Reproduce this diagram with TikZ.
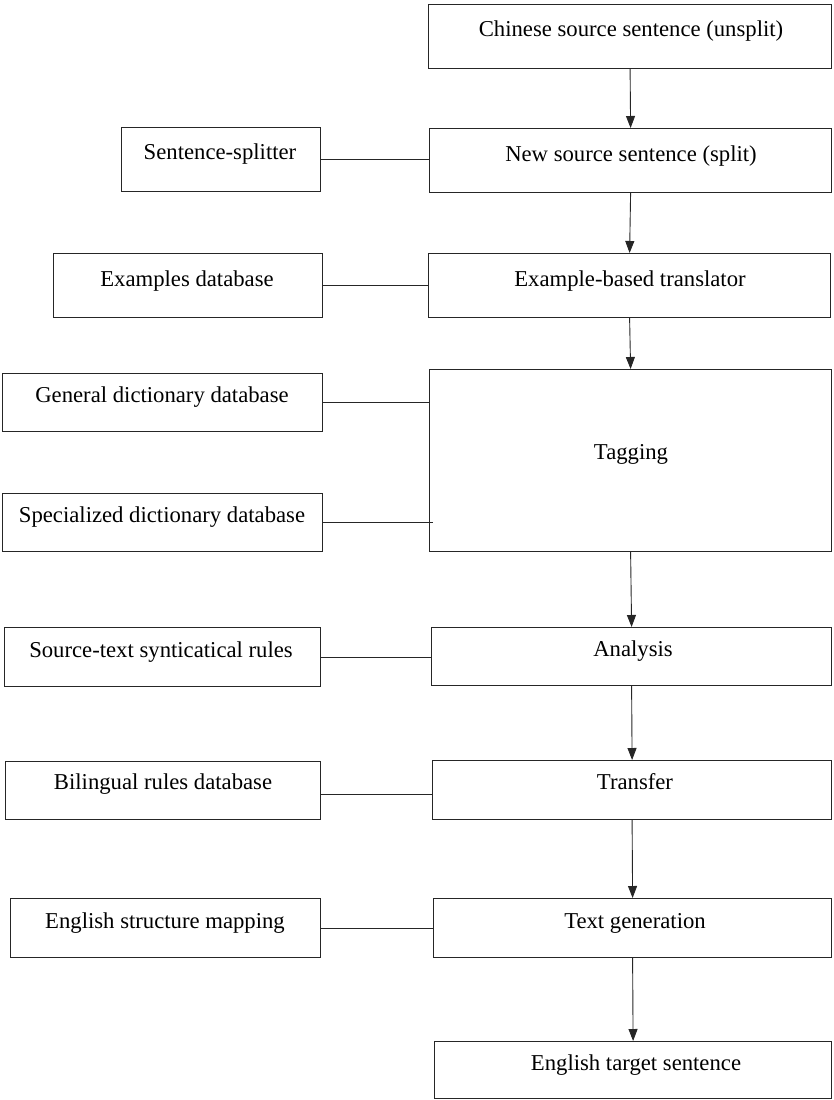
\documentclass[tikz,border=0pt]{standalone}
\usepackage{fontspec}
\setmainfont{Liberation Serif}
\usetikzlibrary{arrows.meta}
\tikzset{
  boxnode/.style={draw=black!85, line width=1.2pt, inner sep=0pt, anchor=north west},
  lbl/.style={font=\fontsize{22.7}{26}\selectfont, anchor=base, inner sep=0pt},
  link/.style={draw=black!85, line width=1.1pt},
  flow/.style={draw=black!85, line width=0.9pt, -{Triangle[length=12pt,width=9pt]}}
}
\newcommand\mybox[8]{%
  \node[boxnode, minimum width=#4pt-#2pt, minimum height=#5pt-#3pt] (#1) at (#2,#3) {};
  \node[lbl] (#1-t) at (#6,#7) {#8};
}
\begin{document}
\begin{tikzpicture}[x=1pt,y=-1pt]
\useasboundingbox (0,0) rectangle (833,1100);
% right column
\mybox{c1}{428}{4}{831}{68}{631}{36}{Chinese source sentence (unsplit)}
\mybox{c2}{429}{128}{831}{192}{631}{161}{New source sentence (split)}
\mybox{c3}{428}{253}{830}{317}{630}{286}{Example-based translator}
\mybox{tag}{429}{369}{831}{551}{631}{459}{Tagging}
\mybox{an}{431}{627}{831}{685}{633}{656}{Analysis}
\mybox{tr}{432}{760}{831}{819}{635}{789}{Transfer}
\mybox{tg}{433}{898}{831}{957}{635}{928}{Text generation}
\mybox{et}{434}{1041}{831}{1098}{636}{1070}{English target sentence}
% left column
\mybox{ss}{121}{127}{320}{191}{220}{159}{Sentence-splitter}
\mybox{ex}{53}{253}{322}{317}{187}{286}{Examples database}
\mybox{gd}{2}{373}{322}{431}{162}{402}{General dictionary database}
\mybox{sd}{2}{493}{322}{551}{162}{522}{Specialized dictionary database}
\mybox{sr}{4}{627}{320}{686}{161}{657}{Source-text synticatical rules}
\mybox{bl}{5}{761}{320}{819}{163}{789}{Bilingual rules database}
\mybox{es}{10}{898}{320}{957}{165}{928}{English structure mapping}
% side links
\draw[link] (ss.east) -- (ss.east -| c2.west);
\draw[link] (ex.east) -- (ex.east -| c3.west);
\draw[link] (gd.east) -- (gd.east -| tag.west);
\draw[link] (sd.east) -- ([xshift=4pt]sd.east -| tag.west);
\draw[link] (sr.east) -- (sr.east -| an.west);
\draw[link] ([yshift=-4pt]bl.east) -- ([yshift=-4pt]bl.east -| tr.west);
\draw[link] (es.east) -- (es.east -| tg.west);
% flow arrows
\draw[flow] (c1.south) -- (c2.north);
\draw[flow] (c2.south) -- (c3.north);
\draw[flow] (c3.south) -- (tag.north);
\draw[flow] (tag.south) -- (an.north);
\draw[flow] (an.south) -- (tr.north);
\draw[flow] (tr.south) -- (tg.north);
\draw[flow] (tg.south) -- (et.north);
\end{tikzpicture}
\end{document}
